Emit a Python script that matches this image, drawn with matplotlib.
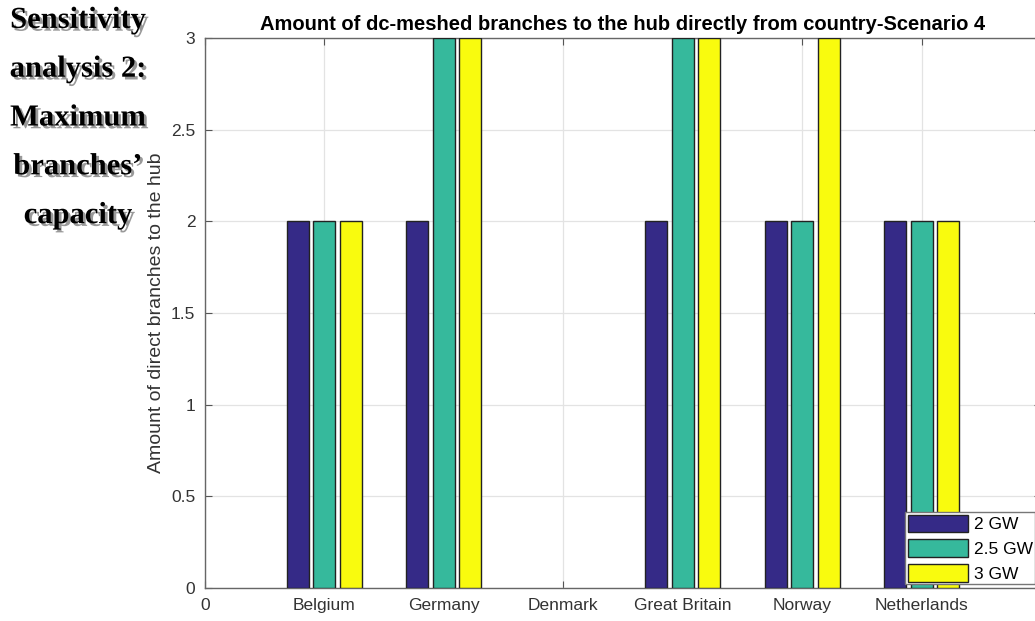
import matplotlib.pyplot as plt
import matplotlib.patheffects as pe
import numpy as np

countries = ['Belgium', 'Germany', 'Denmark', 'Great Britain', 'Norway', 'Netherlands']
gw_2 = [2, 2, 0, 2, 2, 2]
gw_25 = [2, 3, 0, 3, 2, 2]
gw_3 = [2, 3, 0, 3, 3, 2]
series_labels = ['2 GW', '2.5 GW', '3 GW']
colors = ['#352a87', '#36b99c', '#f9fb0e']

fig = plt.figure(figsize=(10.35, 6.21), dpi=100)
ax = fig.add_axes([205 / 1035, 33 / 621, 836 / 1035, 550 / 621])

x = np.arange(1, len(countries) + 1)
offsets = [-0.222, 0.0, 0.222]
width = 0.185
for vals, off, col, lab in zip([gw_2, gw_25, gw_3], offsets, colors, series_labels):
    bars = ax.bar(x + off, vals, width, color=col, edgecolor='#222222', linewidth=1.0,
                  label=lab, zorder=3)
    # zero-height bars are not drawn in the original
    for b, v in zip(bars, vals):
        if v == 0:
            b.set_visible(False)

ax.set_xlim(0, 7)
ax.set_ylim(0, 3)
ax.set_xticks([0] + list(x))
ax.set_xticklabels(['0'] + countries, fontsize=12.5, color='#333333',
                   family='Liberation Sans')
ax.set_yticks([0, 0.5, 1, 1.5, 2, 2.5, 3])
ax.set_yticklabels(['0', '0.5', '1', '1.5', '2', '2.5', '3'], fontsize=12.5,
                   color='#333333', family='Liberation Sans')
ax.tick_params(direction='in', length=5, top=True, right=True, colors='#555555',
               labelcolor='#333333', pad=7)
ax.grid(True, color='#e3e3e3', linewidth=0.9, zorder=0)
for s in ax.spines.values():
    s.set_color('#666666')
    s.set_linewidth(1.0)

ax.set_ylabel('Amount of direct branches to the hub', fontsize=14, color='#333333',
              family='Liberation Sans', labelpad=4)
ax.set_title('Amount of dc-meshed branches to the hub directly from country-Scenario 4',
             fontsize=14.5, fontweight='bold', family='Liberation Sans', pad=6)

ax.legend(loc='upper left', bbox_to_anchor=(905 / 1035, 1 - 512 / 621),
          bbox_transform=fig.transFigure, borderaxespad=0, handlelength=3.5,
          handleheight=1.2, handletextpad=0.3, labelspacing=0.4,
          fancybox=False, edgecolor='#777777', framealpha=1,
          borderpad=0.15, prop={'family': 'Liberation Sans', 'size': 12.5})

fig.text(78, 621 - 118, 'Sensitivity\nanalysis 2:\nMaximum\nbranches\u2019\ncapacity',
         transform=None, ha='center', va='center', fontsize=22,
         fontweight='bold', family='Liberation Serif', linespacing=1.9,
         path_effects=[pe.withSimplePatchShadow(offset=(2, -2), shadow_rgbFace='#555555', alpha=0.6)])

fig.savefig('out.png', dpi=100)
